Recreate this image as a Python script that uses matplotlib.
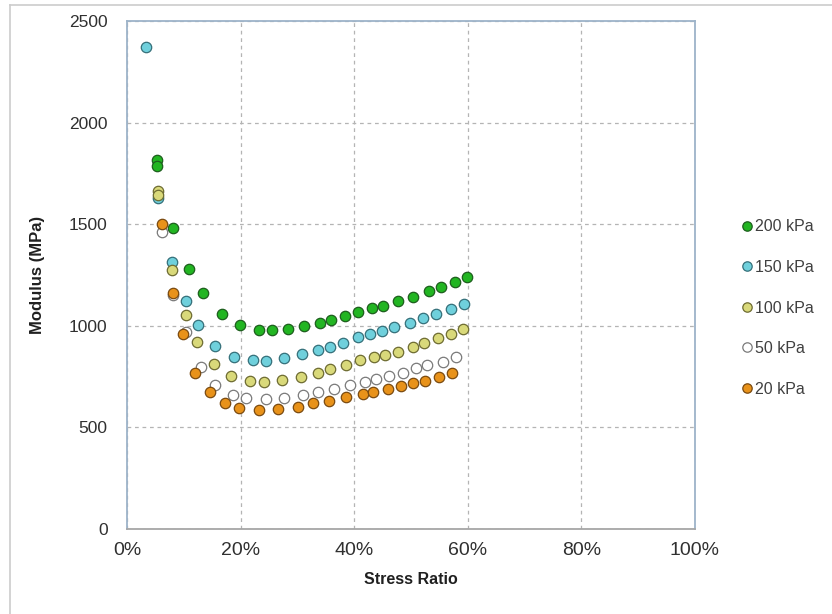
import matplotlib
matplotlib.use("Agg")
import matplotlib.pyplot as plt
from matplotlib.lines import Line2D
from matplotlib.ticker import FuncFormatter, MultipleLocator

# stress ratio (%) and resilient modulus (MPa) for each confining pressure
ratio_200 = [5.3, 5.3, 8.1, 10.9, 13.4, 16.7, 19.9, 23.3, 25.6, 28.4, 31.2, 34.0,
             35.9, 38.3, 40.7, 43.1, 45.1, 47.7, 50.4, 53.2, 55.3, 57.7, 59.9]
mod_200 = [1815, 1785, 1480, 1280, 1160, 1060, 1005, 978, 978, 985, 998, 1014,
           1031, 1048, 1068, 1088, 1097, 1122, 1142, 1171, 1191, 1216, 1240]

ratio_150 = [3.3, 5.4, 7.9, 10.4, 12.5, 15.5, 18.8, 22.2, 24.5, 27.6, 30.8, 33.7,
             35.7, 38.1, 40.7, 42.8, 44.9, 47.0, 49.8, 52.1, 54.4, 57.0, 59.3]
mod_150 = [2370, 1630, 1315, 1122, 1004, 901, 846, 830, 828, 843, 861, 880,
           896, 915, 945, 960, 974, 994, 1014, 1038, 1058, 1083, 1105]

ratio_100 = [5.4, 5.4, 8.0, 10.4, 12.3, 15.3, 18.4, 21.7, 24.1, 27.3, 30.6, 33.6,
             35.7, 38.6, 41.0, 43.5, 45.4, 47.7, 50.4, 52.3, 54.8, 57.0, 59.2]
mod_100 = [1665, 1645, 1275, 1053, 920, 812, 753, 726, 723, 733, 750, 770,
           787, 807, 832, 846, 856, 871, 896, 915, 940, 960, 984]

ratio_50 = [6.1, 8.1, 10.4, 13.0, 15.5, 18.6, 21.0, 24.4, 27.6, 31.0, 33.6,
            36.5, 39.3, 41.9, 43.9, 46.1, 48.6, 50.9, 52.8, 55.6, 57.9]
mod_50 = [1460, 1150, 970, 797, 709, 659, 645, 638, 645, 659, 674,
          689, 710, 723, 738, 753, 768, 792, 805, 820, 846]

ratio_20 = [6.1, 8.1, 9.8, 12.0, 14.6, 17.2, 19.8, 23.2, 26.6, 30.1, 32.7,
            35.6, 38.5, 41.5, 43.4, 45.9, 48.2, 50.4, 52.5, 55.0, 57.3]
mod_20 = [1500, 1161, 958, 770, 676, 620, 597, 588, 590, 600, 620,
          632, 650, 666, 674, 689, 702, 718, 730, 748, 768]

labels = ["200 kPa", "150 kPa", "100 kPa", "50 kPa", "20 kPa"]
fills = ["#22b522", "#6fd0dc", "#d9d97a", "#ffffff", "#e8921a"]
edges = ["#1d5e1d", "#35707a", "#6e6c32", "#7a7a7a", "#7a4a10"]

plt.rcParams["font.family"] = ["Liberation Sans", "DejaVu Sans"]

fig = plt.figure(figsize=(8.32, 6.14), dpi=100)
ax = fig.add_axes([0.1526, 0.1384, 0.6827, 0.8274])

series = [(ratio_200, mod_200), (ratio_150, mod_150), (ratio_100, mod_100),
          (ratio_50, mod_50), (ratio_20, mod_20)]
for (xs, ys), lab, fc, ec in zip(series, labels, fills, edges):
    ax.plot([x / 100 for x in xs], ys, linestyle="none", marker="o",
            markersize=7.5, markerfacecolor=fc, markeredgecolor=ec,
            markeredgewidth=0.9, label=lab, zorder=3)

ax.set_xlim(0, 1)
ax.set_ylim(0, 2500)
ax.xaxis.set_major_locator(MultipleLocator(0.2))
ax.yaxis.set_major_locator(MultipleLocator(500))
ax.xaxis.set_major_formatter(FuncFormatter(lambda v, _: f"{v * 100:.0f}%"))
ax.grid(True, color="#b4b4b4", linestyle=(0, (3, 3)), linewidth=0.9)
ax.set_axisbelow(True)
ax.tick_params(length=0, colors="#303030")
ax.tick_params(axis="y", pad=14, labelsize=12.5)
ax.tick_params(axis="x", pad=9, labelsize=14)
for side in ["top", "right", "left"]:
    ax.spines[side].set_color("#9db3c9")
    ax.spines[side].set_linewidth(1.3)
ax.spines["bottom"].set_color("#a6a6a6")
ax.spines["bottom"].set_linewidth(1.3)

ax.set_xlabel("Stress Ratio", fontsize=11.5, fontweight="bold", labelpad=10,
              color="#202020")
ax.set_ylabel("Modulus (MPa)", fontsize=12, fontweight="bold", labelpad=17,
              color="#202020")

ax.legend(loc="center left", bbox_to_anchor=(1.053, 0.435), frameon=False,
          fontsize=11.5, handletextpad=0.0, handlelength=1.0,
          labelspacing=1.6, markerscale=0.9, labelcolor="#404040")

# light chart-area border
fig.add_artist(Line2D([10 / 832, 1], [1 - 5 / 614] * 2, color="#cccccc", lw=1.2))
fig.add_artist(Line2D([10 / 832] * 2, [0, 1 - 5 / 614], color="#cccccc", lw=1.2))

fig.savefig("out.png", dpi=100)
